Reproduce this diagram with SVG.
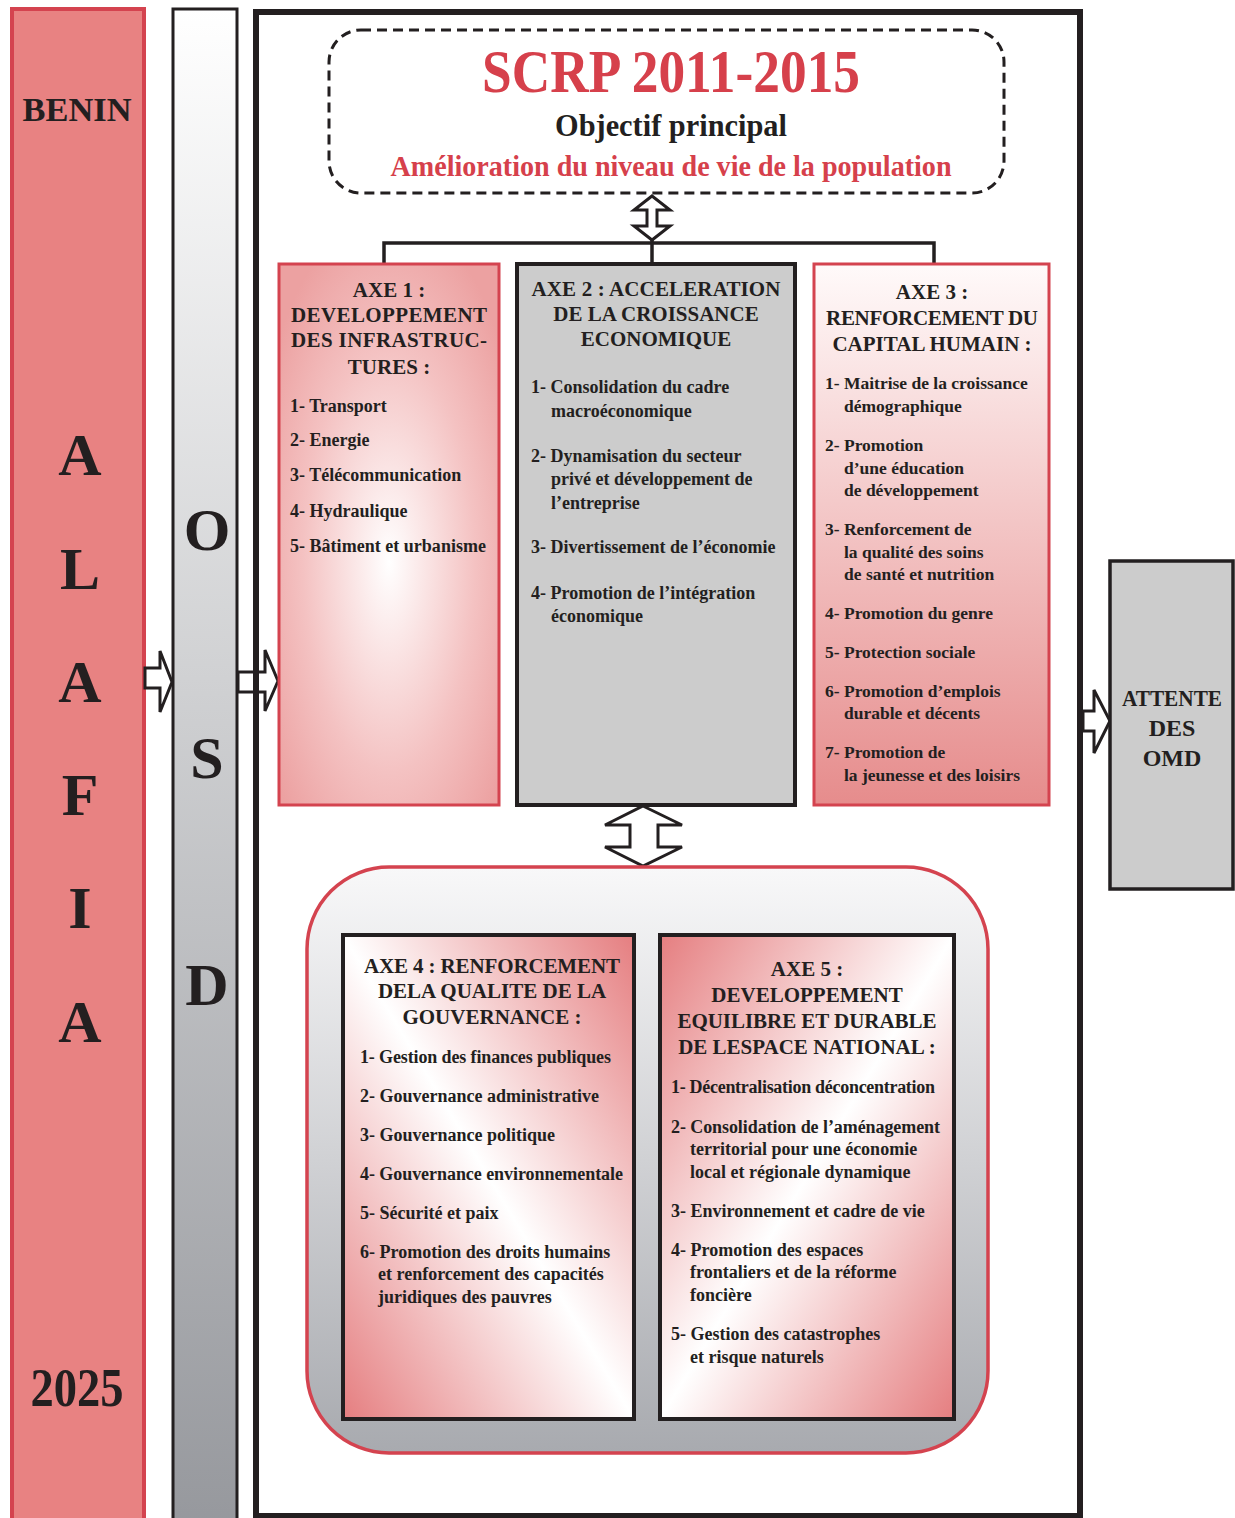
<svg xmlns="http://www.w3.org/2000/svg" width="1235" height="1518" viewBox="0 0 1235 1518">
<style>
text{font-family:"Liberation Serif","DejaVu Serif",serif;font-weight:bold;fill:#231f20}
.red{fill:#d6404b}
.h{font-size:21px;text-anchor:middle}
.it{font-size:18px}
.it3{font-size:17.5px}
.big{font-size:60px;text-anchor:middle}
.arrow{fill:#fff;stroke:#231f20;stroke-width:3;stroke-linejoin:miter}
.conn{fill:none;stroke:#231f20;stroke-width:3.5}
</style>
<defs>
<linearGradient id="gOsd" x1="0" y1="0" x2="0" y2="1">
<stop offset="0" stop-color="#ffffff"/><stop offset="0.45" stop-color="#cfd0d2"/><stop offset="1" stop-color="#96989d"/>
</linearGradient>
<radialGradient id="gAxe1" cx="0.5" cy="0.55" r="0.65">
<stop offset="0" stop-color="#ffffff"/><stop offset="0.6" stop-color="#f4c2c2"/><stop offset="1" stop-color="#eca1a1"/>
</radialGradient>
<linearGradient id="gAxe3" x1="0" y1="0" x2="0" y2="1">
<stop offset="0" stop-color="#fffafa"/><stop offset="1" stop-color="#e68c8c"/>
</linearGradient>
<linearGradient id="gGroup" x1="0" y1="0" x2="0" y2="1">
<stop offset="0" stop-color="#f8f8f9"/><stop offset="1" stop-color="#a8aaaf"/>
</linearGradient>
<linearGradient id="gAxe4" x1="1" y1="0" x2="0" y2="1">
<stop offset="0" stop-color="#e57e80"/><stop offset="0.5" stop-color="#ffffff"/><stop offset="1" stop-color="#e57e80"/>
</linearGradient>
<linearGradient id="gAxe5" x1="0" y1="0" x2="1" y2="1">
<stop offset="0" stop-color="#e57e80"/><stop offset="0.5" stop-color="#ffffff"/><stop offset="1" stop-color="#e57e80"/>
</linearGradient>
</defs>

<g id="benin">
<rect x="12" y="9" width="132" height="1520" fill="#e88282" stroke="#d4434f" stroke-width="4"/>
<text x="77" y="121" font-size="33" text-anchor="middle" textLength="109" lengthAdjust="spacingAndGlyphs">BENIN</text>
<text class="big" x="80" y="475">A</text>
<text class="big" x="80" y="589">L</text>
<text class="big" x="80" y="702">A</text>
<text class="big" x="80" y="815">F</text>
<text class="big" x="80" y="928">I</text>
<text class="big" x="80" y="1042">A</text>
<text x="77" y="1406" font-size="54" text-anchor="middle" textLength="93" lengthAdjust="spacingAndGlyphs">2025</text>
</g>

<g id="osd">
<rect x="173" y="9" width="64" height="1520" fill="url(#gOsd)" stroke="#231f20" stroke-width="3"/>
<text class="big" x="207" y="550">O</text>
<text class="big" x="207" y="778">S</text>
<text class="big" x="207" y="1005">D</text>
</g>

<g id="frame">
<rect x="256" y="12" width="824" height="1504" fill="#fff" stroke="#231f20" stroke-width="6"/>
</g>

<g id="scrp">
<rect x="329" y="30" width="675" height="163" rx="32" fill="#fff" stroke="#231f20" stroke-width="3" stroke-dasharray="10 6"/>
<text class="red" x="671" y="92" font-size="62" text-anchor="middle" textLength="378" lengthAdjust="spacingAndGlyphs">SCRP 2011-2015</text>
<text x="671" y="136" font-size="32" text-anchor="middle" textLength="232" lengthAdjust="spacingAndGlyphs">Objectif principal</text>
<text class="red" x="671" y="176" font-size="29" text-anchor="middle" textLength="561" lengthAdjust="spacingAndGlyphs">Amélioration du niveau de vie de la population</text>
</g>

<g id="connectors">
<polyline class="conn" points="384,264 384,243 934,243 934,264"/>
<line class="conn" x1="652" y1="238" x2="652" y2="264"/>
<polygon class="arrow" points="652,196 670,210 657,210 657,226 670,226 652,240 634,226 647,226 647,210 634,210"/>
<polygon class="arrow" points="643,806 682,825 658,825 658,847 682,847 643,866 605,847 630,847 630,825 605,825"/>
<polygon class="arrow" points="145,668 160,668 160,651 172,682 160,712 160,688 145,688"/>
<polygon class="arrow" points="238,672 265,672 265,650 278,681 265,711 265,692 238,692"/>
<line x1="256" y1="660" x2="256" y2="700" stroke="#231f20" stroke-width="6"/>
<polygon class="arrow" points="1083,711 1094,711 1094,690 1110,721 1094,753 1094,731 1083,731"/>
</g>

<g id="axe1">
<rect x="279" y="264" width="220" height="541" fill="url(#gAxe1)" stroke="#d4434f" stroke-width="3"/>
<text class="h" x="389" y="297">AXE 1 :</text>
<text class="h" x="389" y="322" textLength="196">DEVELOPPEMENT</text>
<text class="h" x="389" y="347" textLength="196">DES INFRASTRUC-</text>
<text class="h" x="389" y="374">TURES :</text>
<text class="it" x="290" y="412">1- Transport</text>
<text class="it" x="290" y="446">2- Energie</text>
<text class="it" x="290" y="481">3- Télécommunication</text>
<text class="it" x="290" y="517">4- Hydraulique</text>
<text class="it" x="290" y="552" textLength="196">5- Bâtiment et urbanisme</text>
</g>

<g id="axe2">
<rect x="517" y="264" width="278" height="541" fill="#cccccc" stroke="#231f20" stroke-width="4"/>
<text class="h" x="656" y="296" textLength="249">AXE 2 : ACCELERATION</text>
<text class="h" x="656" y="321">DE LA CROISSANCE</text>
<text class="h" x="656" y="346">ECONOMIQUE</text>
<text class="it" x="531" y="393">1- Consolidation du cadre</text>
<text class="it" x="551" y="417">macroéconomique</text>
<text class="it" x="531" y="462">2- Dynamisation du secteur</text>
<text class="it" x="551" y="485">privé et développement de</text>
<text class="it" x="551" y="509">l’entreprise</text>
<text class="it" x="531" y="553">3- Divertissement de l’économie</text>
<text class="it" x="531" y="599">4- Promotion de l’intégration</text>
<text class="it" x="551" y="622">économique</text>
</g>

<g id="axe3">
<rect x="814" y="264" width="235" height="541" fill="url(#gAxe3)" stroke="#d4434f" stroke-width="3"/>
<text class="h" x="932" y="299">AXE 3 :</text>
<text class="h" x="932" y="325" textLength="212">RENFORCEMENT DU</text>
<text class="h" x="932" y="351">CAPITAL HUMAIN :</text>
<text class="it3" x="825" y="389">1- Maitrise de la croissance</text>
<text class="it3" x="844" y="412">démographique</text>
<text class="it3" x="825" y="451">2- Promotion</text>
<text class="it3" x="844" y="474">d’une éducation</text>
<text class="it3" x="844" y="496">de développement</text>
<text class="it3" x="825" y="535">3- Renforcement de</text>
<text class="it3" x="844" y="558">la qualité des soins</text>
<text class="it3" x="844" y="580">de santé et nutrition</text>
<text class="it3" x="825" y="619">4- Promotion du genre</text>
<text class="it3" x="825" y="658">5- Protection sociale</text>
<text class="it3" x="825" y="697">6- Promotion d’emplois</text>
<text class="it3" x="844" y="719">durable et décents</text>
<text class="it3" x="825" y="758">7- Promotion de</text>
<text class="it3" x="844" y="781">la jeunesse et des loisirs</text>
</g>

<g id="groupe">
<rect x="307" y="867" width="681" height="586" rx="82" fill="url(#gGroup)" stroke="#d4434f" stroke-width="3.5"/>
</g>

<g id="axe4">
<rect x="343" y="935" width="291" height="484" fill="url(#gAxe4)" stroke="#231f20" stroke-width="4"/>
<text class="h" x="492" y="973" textLength="256">AXE 4 : RENFORCEMENT</text>
<text class="h" x="492" y="998">DELA QUALITE DE LA</text>
<text class="h" x="492" y="1024">GOUVERNANCE :</text>
<text class="it" x="360" y="1063" textLength="251">1- Gestion des finances publiques</text>
<text class="it" x="360" y="1102">2- Gouvernance administrative</text>
<text class="it" x="360" y="1141">3- Gouvernance politique</text>
<text class="it" x="360" y="1180" textLength="263">4- Gouvernance environnementale</text>
<text class="it" x="360" y="1219">5- Sécurité et paix</text>
<text class="it" x="360" y="1258">6- Promotion des droits humains</text>
<text class="it" x="378" y="1280">et renforcement des capacités</text>
<text class="it" x="378" y="1303">juridiques des pauvres</text>
</g>

<g id="axe5">
<rect x="660" y="935" width="294" height="484" fill="url(#gAxe5)" stroke="#231f20" stroke-width="4"/>
<text class="h" x="807" y="976">AXE 5 :</text>
<text class="h" x="807" y="1002">DEVELOPPEMENT</text>
<text class="h" x="807" y="1028" textLength="259">EQUILIBRE ET DURABLE</text>
<text class="h" x="807" y="1054">DE LESPACE NATIONAL :</text>
<text class="it" x="671" y="1093" textLength="264">1- Décentralisation déconcentration</text>
<text class="it" x="671" y="1133" textLength="269">2- Consolidation de l’aménagement</text>
<text class="it" x="690" y="1155">territorial pour une économie</text>
<text class="it" x="690" y="1178">local et régionale dynamique</text>
<text class="it" x="671" y="1217">3- Environnement et cadre de vie</text>
<text class="it" x="671" y="1256">4- Promotion des espaces</text>
<text class="it" x="690" y="1278">frontaliers et de la réforme</text>
<text class="it" x="690" y="1301">foncière</text>
<text class="it" x="671" y="1340">5- Gestion des catastrophes</text>
<text class="it" x="690" y="1363">et risque naturels</text>
</g>

<g id="omd">
<rect x="1110" y="561" width="123" height="328" fill="#cccccc" stroke="#231f20" stroke-width="3.5"/>
<text x="1172" y="706" font-size="24" text-anchor="middle" textLength="100" lengthAdjust="spacingAndGlyphs">ATTENTE</text>
<text x="1172" y="736" font-size="24" text-anchor="middle">DES</text>
<text x="1172" y="766" font-size="24" text-anchor="middle">OMD</text>
</g>
</svg>
